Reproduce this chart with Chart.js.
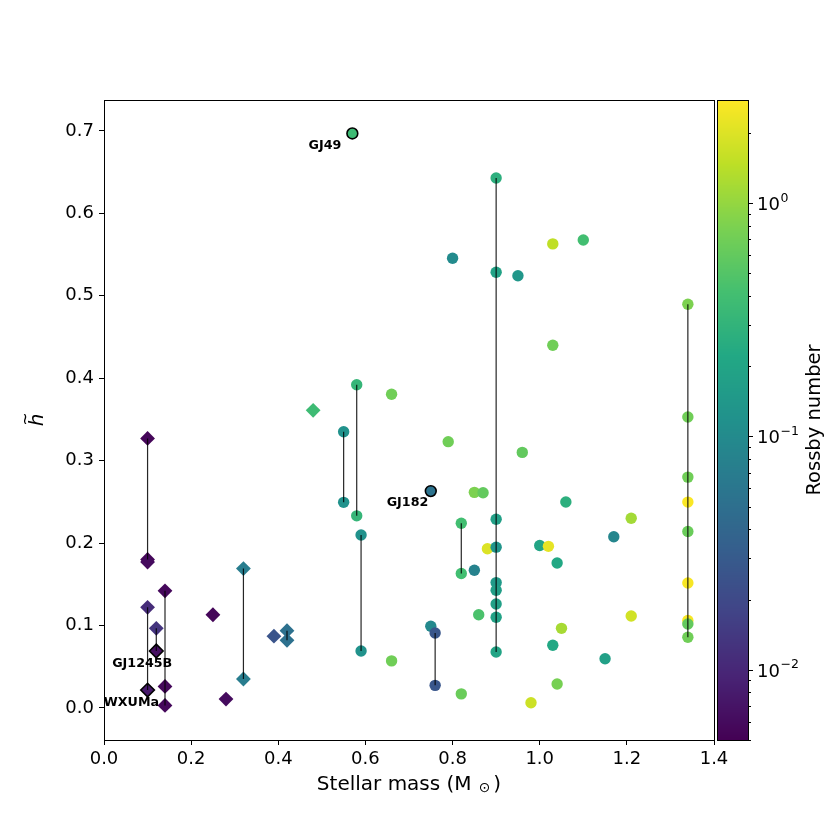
<!DOCTYPE html>
<html><head><meta charset="utf-8">
<script src="https://cdn.jsdelivr.net/npm/chart.js@4"></script>
<style>html,body{margin:0;padding:0;background:#fff;} #wrap{width:831px;height:831px;position:relative;} canvas{display:block;}</style>
</head><body><div id="wrap"><canvas id="c" width="831" height="831"></canvas></div>
<script>
// ---------- data ----------
const diamondMass = [0.10, 0.10, 0.10, 0.10, 0.12, 0.14, 0.14, 0.14, 0.25, 0.28, 0.32, 0.32, 0.39, 0.42, 0.42, 0.48];
const diamondH    = [0.327, 0.180, 0.177, 0.122, 0.0965, 0.142, 0.026, 0.003, 0.113, 0.0107, 0.169, 0.035, 0.087, 0.0936, 0.082, 0.361];
const diamondRo   = [0.0055, 0.0055, 0.006, 0.011, 0.013, 0.0057, 0.0057, 0.0057, 0.0055, 0.006, 0.071, 0.071, 0.026, 0.052, 0.052, 0.37];

const circleMass = [0.55, 0.55, 0.58, 0.58, 0.59, 0.59, 0.66, 0.66, 0.75, 0.76, 0.76, 0.79, 0.80, 0.82, 0.82, 0.82, 0.85, 0.87, 0.85, 0.86, 0.88,
                    0.90, 0.90, 0.90, 0.90, 0.90, 0.90, 0.90, 0.90, 0.90,
                    0.95, 0.96, 0.98, 1.00, 1.02, 1.03, 1.03, 1.03, 1.04, 1.04, 1.05, 1.06, 1.10, 1.15, 1.17, 1.21, 1.21,
                    1.34, 1.34, 1.34, 1.34, 1.34, 1.34, 1.34, 1.34, 1.34];
const circleH    = [0.335, 0.2494, 0.392, 0.233, 0.2097, 0.069, 0.3805, 0.057, 0.099, 0.0908, 0.0273, 0.323, 0.5455, 0.224, 0.163, 0.017, 0.2615, 0.261, 0.167, 0.113, 0.193,
                    0.643, 0.5285, 0.2288, 0.195, 0.152, 0.1426, 0.126, 0.110, 0.0677,
                    0.5244, 0.310, 0.0062, 0.197, 0.196, 0.563, 0.440, 0.076, 0.1757, 0.029, 0.0965, 0.2498, 0.5677, 0.0596, 0.2077, 0.230, 0.1114,
                    0.4897, 0.353, 0.280, 0.2497, 0.214, 0.1515, 0.106, 0.1017, 0.0856];
const circleRo   = [0.12, 0.12, 0.32, 0.32, 0.12, 0.12, 0.7, 0.7, 0.095, 0.027, 0.027, 0.7, 0.1, 0.4, 0.4, 0.65, 0.8, 0.6, 0.08, 0.45, 2.0,
                    0.27, 0.19, 0.18, 0.13, 0.15, 0.17, 0.18, 0.19, 0.2,
                    0.14, 0.6, 1.7, 0.2, 2.2, 1.5, 0.7, 0.22, 0.22, 0.75, 1.2, 0.27, 0.4, 0.18, 0.09, 1.15, 1.8,
                    0.8, 0.7, 0.7, 2.7, 0.65, 2.6, 2.6, 0.6, 0.7];

const starName  = ['GJ49', 'GJ182', 'GJ1245B', 'WXUMa'];
const starMass  = [0.57, 0.75, 0.12, 0.10];
const starH     = [0.697, 0.263, 0.069, 0.0216];
const starRo    = [0.37, 0.055, 0.0065, 0.0078];
const starShape = ['circle', 'circle', 'rectRot', 'rectRot'];

const lineMass   = [0.10, 0.10, 0.12, 0.14, 0.32, 0.42, 0.55, 0.58, 0.59, 0.76, 0.82, 0.90, 1.34];
const lineTop    = [0.327, 0.122, 0.0965, 0.142, 0.169, 0.0936, 0.335, 0.392, 0.2097, 0.0908, 0.224, 0.643, 0.4897];
const lineBottom = [0.180, 0.0216, 0.069, 0.003, 0.035, 0.082, 0.2494, 0.233, 0.069, 0.0273, 0.163, 0.0677, 0.0856];

const RO_MIN = 0.005, RO_MAX = 2.77;
const cbMajor = [0.01, 0.1, 1];
const cbMajorExp = ['\u22122', '\u22121', '0'];

// ---------- styling (not data) ----------
const labelOffsets = [[-11, 12], [-2.5, 12], [16, 12.5], [11.5, 12.3]];
const VIR = ['#440154','#482475','#414487','#355f8d','#2a788e','#21918c','#22a884','#44bf70','#7ad151','#bddf26','#fde725'];
const VIRrgb = VIR.map(h => [parseInt(h.slice(1,3),16), parseInt(h.slice(3,5),16), parseInt(h.slice(5,7),16)]);
function viridis(t) {
  t = Math.max(0, Math.min(1, t));
  const s = t * (VIR.length - 1);
  const i = Math.min(Math.floor(s), VIR.length - 2);
  const f = s - i;
  const a = VIRrgb[i], b = VIRrgb[i + 1];
  return 'rgb(' + [0,1,2].map(k => Math.round(a[k] + (b[k] - a[k]) * f)).join(',') + ')';
}
function roColor(ro) {
  return viridis((Math.log10(ro) - Math.log10(RO_MIN)) / (Math.log10(RO_MAX) - Math.log10(RO_MIN)));
}
const FONT = "'DejaVu Sans', sans-serif";

const datasets = [];
lineMass.forEach((m, i) => {
  datasets.push({
    type: 'scatter', showLine: true, data: [{x: m, y: lineTop[i]}, {x: m, y: lineBottom[i]}],
    borderColor: 'rgba(0,0,0,0.85)', borderWidth: 1.2, pointRadius: 0, order: 0, yAxisID: 'y'
  });
});
datasets.push({
  data: diamondMass.map((m, i) => ({x: m, y: diamondH[i]})),
  pointStyle: 'rectRot', pointRadius: 7.4, borderWidth: 0,
  backgroundColor: diamondRo.map(roColor), borderColor: diamondRo.map(roColor), order: 2
});
datasets.push({
  data: circleMass.map((m, i) => ({x: m, y: circleH[i]})),
  pointStyle: 'circle', pointRadius: 5.7, borderWidth: 0,
  backgroundColor: circleRo.map(roColor), borderColor: circleRo.map(roColor), order: 2
});
datasets.push({
  data: starMass.map((m, i) => ({x: m, y: starH[i]})),
  pointStyle: starShape, pointRadius: starShape.map(s => s === 'circle' ? 5.4 : 6.8), borderWidth: 1.6,
  backgroundColor: starRo.map(roColor), borderColor: '#000', order: 1
});

const deco = {
  id: 'deco',
  afterDraw(chart) {
    const ctx = chart.ctx, ca = chart.chartArea;
    const xs = chart.scales.x, ys = chart.scales.y, cb = chart.scales.cb;
    ctx.save();
    // frame
    ctx.strokeStyle = '#000'; ctx.lineWidth = 1;
    ctx.strokeRect(Math.round(ca.left) + 0.5, Math.round(ca.top) + 0.5, Math.round(ca.right - ca.left), Math.round(ca.bottom - ca.top));
    // star labels
    ctx.fillStyle = '#000';
    ctx.font = 'bold 12.7px ' + FONT;
    ctx.textAlign = 'right'; ctx.textBaseline = 'middle';
    starName.forEach((n, i) => {
      const px = xs.getPixelForValue(starMass[i]), py = ys.getPixelForValue(starH[i]);
      ctx.fillText(n, px + labelOffsets[i][0], py + labelOffsets[i][1]);
    });
    // x title
    const big = '20px ' + FONT, small = '14px ' + FONT;
    ctx.font = big;
    const t1 = 'Stellar mass (M', t3 = ')';
    const w1 = ctx.measureText(t1).width, w3 = ctx.measureText(t3).width;
    ctx.font = small;
    const w2 = ctx.measureText('\u2299').width;
    const gap = 7, gap2 = 3;
    const total = w1 + gap + w2 + gap2 + w3;
    let x0 = (ca.left + ca.right) / 2 - total / 2;
    const base = 789.5;
    ctx.textAlign = 'left'; ctx.textBaseline = 'alphabetic';
    ctx.font = big; ctx.fillText(t1, x0, base);
    ctx.font = small; ctx.fillText('\u2299', x0 + w1 + gap, base + 2.5);
    ctx.font = big; ctx.fillText(t3, x0 + w1 + gap + w2 + gap2, base);
    // y title
    ctx.save();
    ctx.translate(38, (ca.top + ca.bottom) / 2);
    ctx.rotate(-Math.PI / 2);
    ctx.textAlign = 'center'; ctx.textBaseline = 'middle';
    ctx.font = 'italic 20px ' + FONT;
    ctx.fillText('h', 0, 0);
    ctx.font = '16px ' + FONT;
    ctx.fillText('~', 1, -12);
    ctx.restore();
    // colorbar
    const cx0 = 717, cx1 = 748;
    const top = Math.round(cb.top), bot = Math.round(cb.bottom);
    for (let py = top; py < bot; py++) {
      const v = cb.getValueForPixel(py + 0.5);
      ctx.fillStyle = roColor(v);
      ctx.fillRect(cx0, py, cx1 - cx0, 1);
    }
    ctx.strokeStyle = '#000'; ctx.lineWidth = 1;
    ctx.strokeRect(cx0 + 0.5, top + 0.5, cx1 - cx0, bot - top);
    // minor ticks
    ctx.beginPath();
    for (let k = -3; k <= 0; k++) {
      for (let m = 2; m <= 9; m++) {
        const v = m * Math.pow(10, k);
        if (v < RO_MIN || v > RO_MAX) continue;
        const py = Math.round(cb.getPixelForValue(v)) + 0.5;
        ctx.moveTo(cx1, py); ctx.lineTo(cx1 + 3, py);
      }
    }
    ctx.stroke();
    ctx.beginPath();
    cbMajor.forEach(v => {
      const py = Math.round(cb.getPixelForValue(v)) + 0.5;
      ctx.moveTo(cx1, py); ctx.lineTo(cx1 + 5, py);
    });
    ctx.stroke();
    ctx.fillStyle = '#000';
    ctx.textAlign = 'left'; ctx.textBaseline = 'alphabetic';
    cbMajor.forEach((v, i) => {
      const py = cb.getPixelForValue(v);
      ctx.font = '18px ' + FONT;
      ctx.fillText('10', 757, py + 7);
      const w = ctx.measureText('10').width;
      ctx.font = '12.5px ' + FONT;
      ctx.fillText(cbMajorExp[i], 757 + w + 0.5, py - 1.5);
    });
    // colorbar label
    ctx.save();
    ctx.translate(815, (top + bot) / 2);
    ctx.rotate(-Math.PI / 2);
    ctx.textAlign = 'center'; ctx.textBaseline = 'middle';
    ctx.font = '19.5px ' + FONT;
    ctx.fillText('Rossby number', 0, 0);
    ctx.restore();
    ctx.restore();
  }
};

new Chart(document.getElementById('c'), {
  type: 'scatter',
  data: { datasets },
  options: {
    responsive: false, animation: false, devicePixelRatio: 1, events: [],
    layout: { padding: { left: 0, top: 100, right: 117, bottom: 0 } },
    plugins: { legend: { display: false }, tooltip: { enabled: false } },
    scales: {
      x: {
        type: 'linear', position: 'bottom', min: 0, max: 1.4,
        afterFit(s) { s.height = 91; },
        border: { display: true, color: '#000', width: 1 },
        grid: { drawOnChartArea: false, drawTicks: true, tickLength: 5, color: '#000' },
        ticks: { stepSize: 0.2, padding: 4, color: '#000', font: { family: 'DejaVu Sans', size: 18 },
                 maxRotation: 0, autoSkip: false, callback: v => Number(v).toFixed(1) }
      },
      y: {
        type: 'linear', position: 'left', min: -0.039, max: 0.7376,
        afterFit(s) { s.width = 104; },
        border: { display: true, color: '#000', width: 1 },
        grid: { drawOnChartArea: false, drawTicks: true, tickLength: 5, color: '#000' },
        ticks: { stepSize: 0.1, includeBounds: false, padding: 5, color: '#000', font: { family: 'DejaVu Sans', size: 18 },
                 autoSkip: false, callback: v => Number(v).toFixed(1) }
      },
      cb: {
        type: 'logarithmic', position: 'right', display: false, min: RO_MIN, max: RO_MAX,
        afterFit(s) { s.width = 0; }
      }
    }
  },
  plugins: [deco]
});
</script>
</body></html>
